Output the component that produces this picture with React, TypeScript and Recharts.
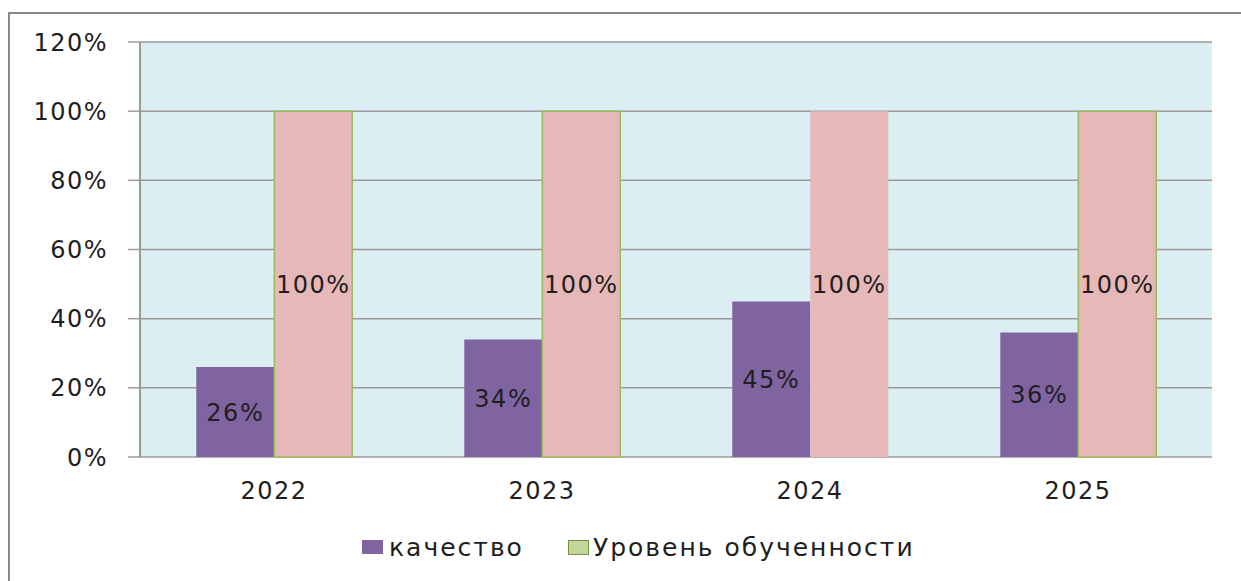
import React from 'react';
import { BarChart, Bar, XAxis, YAxis, CartesianGrid, Legend, LabelList, Cell } from 'recharts';

const years = ['2022', '2023', '2024', '2025'];
const quality = [0.26, 0.34, 0.45, 0.36];
const learning = [1, 1, 1, 1];
const yTicks = [0, 0.2, 0.4, 0.6, 0.8, 1.0, 1.2];
const edgeTicks = [0, 1, 2, 3, 4];
const seriesNames = ['качество', 'Уровень обученности'];

const data = years.map((y, i) => ({ year: y, q: quality[i], l: learning[i] }));

const FONT = "'DejaVu Sans', Verdana, sans-serif";
const TXT = '#1e1e1e';
const GRID = '#9a9a9a';

const pct = (v: number) => `${Math.round(v * 100)}%`;

const LegendContent = () => (
  <div style={{ height: 30, display: 'flex', alignItems: 'center', paddingLeft: 362, fontFamily: FONT, fontSize: 25, letterSpacing: 2, color: TXT }}>
    <span style={{ width: 21, height: 14, background: '#8064A2', display: 'inline-block', marginRight: 6 }} />
    <span style={{ marginRight: 44 }}>{seriesNames[0]}</span>
    <span style={{ width: 19, height: 13, background: '#C3D69B', border: '1px solid #77933C', display: 'inline-block', marginRight: 4 }} />
    <span>{seriesNames[1]}</span>
  </div>
);

export default function App() {
  return (
    <div style={{ position: 'absolute', left: 0, top: 0, width: 1241, height: 581, background: '#fff' }}>
      <div style={{ position: 'absolute', left: 8, top: 12, width: 1233, height: 569, borderTop: '2px solid #888', borderLeft: '2px solid #888', boxSizing: 'border-box' }} />
      <div style={{ position: 'absolute', left: 0, top: 0 }}>
        <BarChart width={1241} height={581} data={data} margin={{ top: 42, right: 29, left: 0, bottom: 19 }} barGap={0} barCategoryGap="21%">
          <CartesianGrid xAxisId="cat" vertical={false} horizontal={true} stroke={GRID} strokeWidth={1.5} fill="#DBEEF3" fillOpacity={1} />
          <XAxis xAxisId="edges" type="number" domain={[0, 4]} ticks={edgeTicks} tick={false} height={0} tickSize={10} axisLine={{ stroke: GRID, strokeWidth: 2 }} tickLine={{ stroke: GRID, strokeWidth: 2 }} allowDataOverflow />
          <XAxis xAxisId="cat" dataKey="year" height={75} axisLine={false} tickLine={false} tickSize={10} tickMargin={15} tick={{ fill: TXT, fontSize: 24, fontFamily: FONT, letterSpacing: 1.5 }} />
          <YAxis width={140} domain={[0, 1.2]} ticks={yTicks} tickFormatter={pct} tickSize={12} tickMargin={20} axisLine={{ stroke: GRID, strokeWidth: 2 }} tickLine={{ stroke: GRID, strokeWidth: 1.5 }} tick={{ fill: TXT, fontSize: 24, fontFamily: FONT, letterSpacing: 1.5 }} interval={0} />
          <Legend verticalAlign="bottom" content={<LegendContent />} />
          <Bar xAxisId="cat" dataKey="q" name={seriesNames[0]} fill="#8064A2" isAnimationActive={false}>
            <LabelList dataKey="q" position="center" formatter={(v: any) => pct(Number(v))} fill={TXT} fontSize={24} fontFamily={FONT} letterSpacing={1.5} />
          </Bar>
          <Bar xAxisId="cat" dataKey="l" name={seriesNames[1]} fill="#E6B9B8" isAnimationActive={false}>
            {data.map((d, i) => (
              <Cell key={d.year} fill="#E6B9B8" stroke={i === 2 ? 'none' : '#9BBB59'} strokeWidth={1.5} />
            ))}
            <LabelList dataKey="l" position="center" formatter={(v: any) => pct(Number(v))} fill={TXT} fontSize={24} fontFamily={FONT} letterSpacing={1.5} />
          </Bar>
        </BarChart>
      </div>
    </div>
  );
}
